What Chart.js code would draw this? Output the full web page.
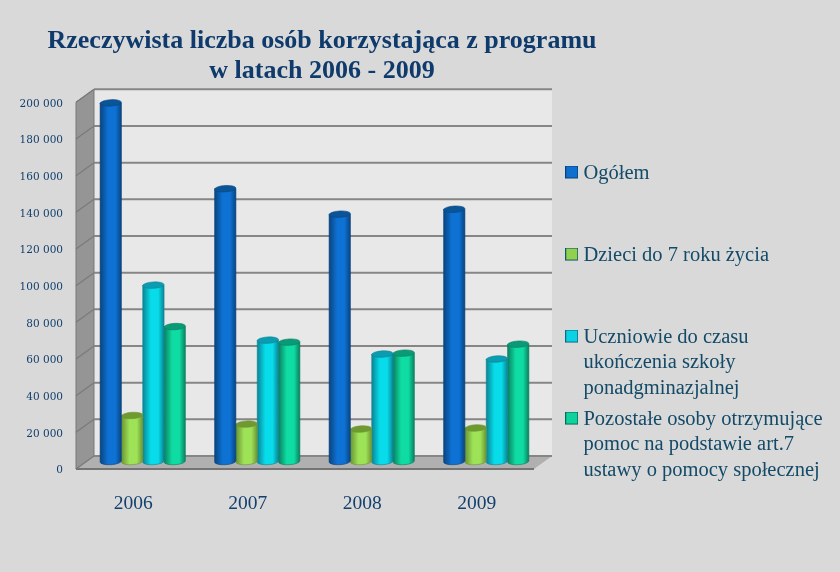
<!DOCTYPE html>
<html><head><meta charset="utf-8">
<script src="https://cdn.jsdelivr.net/npm/chart.js@4"></script>
<style>html,body{margin:0;padding:0;background:#d9d9d9}canvas{display:block}</style>
</head><body><canvas id="c" width="840" height="572"></canvas>
<script>
const categories = ['2006', '2007', '2008', '2009'];
const ogolem = [195600, 148800, 134900, 137600];
const dzieci = [25100, 20400, 17700, 18300];
const uczniowie = [96200, 66200, 58600, 55900];
const pozostale = [73600, 65100, 59100, 64000];
const seriesNames = ['Ogółem', 'Dzieci do 7 roku życia', 'Uczniowie do czasu ukończenia szkoły ponadgminazjalnej', 'Pozostałe osoby otrzymujące pomoc na podstawie art.7 ustawy o pomocy społecznej'];
const legendLines = [
  ['Ogółem', '', ''],
  ['Dzieci do 7 roku życia', '', ''],
  ['Uczniowie do czasu', 'ukończenia szkoły', 'ponadgminazjalnej'],
  ['Pozostałe osoby otrzymujące', 'pomoc na podstawie art.7', 'ustawy o pomocy społecznej']
];
const titleLines = ['Rzeczywista liczba osób korzystająca z programu', 'w latach 2006 - 2009'];

const styles = [
  {fill:'#0e6fce', edge:'#0a4480', mid:'#0d72d4', cap:'#0a5598', box:'#0b3f7a'},
  {fill:'#92d050', edge:'#6c9432', mid:'#9ee258', cap:'#6f9a30', box:'#0f5a6c'},
  {fill:'#0ad2e4', edge:'#0a8494', mid:'#08dcea', cap:'#0a9cb0', box:'#0f6a80'},
  {fill:'#0fd39c', edge:'#0a8060', mid:'#0fdca2', cap:'#0a9a78', box:'#0a6a58'}
];
const DX = 18, DY = -13;          // depth of the 3D box
const BAR_DX = 9.5, BAR_DY = -7.5; // bars stand mid-depth
const textColor = '#123f6e', legendColor = '#124a68';

// Cylinder rendering of the library's bar elements
Chart.BarElement.prototype.draw = function (ctx) {
  const s = styles.find(k => k.fill === this.options.backgroundColor);
  const w = this.width, cx = this.x + BAR_DX, yt = this.y + BAR_DY, yb = this.base + BAR_DY;
  const l = cx - w / 2, r = cx + w / 2, ry = 3.2, tilt = -0.06;
  const g = ctx.createLinearGradient(l, 0, r, 0);
  g.addColorStop(0, s.edge); g.addColorStop(0.38, s.mid); g.addColorStop(0.72, s.mid); g.addColorStop(1, s.edge);
  ctx.save();
  ctx.beginPath();
  ctx.moveTo(l, yt); ctx.lineTo(l, yb);
  ctx.ellipse(cx, yb, w / 2, ry, tilt, Math.PI, 0, true);
  ctx.lineTo(r, yt); ctx.closePath();
  ctx.fillStyle = g; ctx.fill();
  ctx.lineWidth = 0.6; ctx.strokeStyle = s.edge; ctx.stroke();
  ctx.beginPath();
  ctx.ellipse(cx, yt, w / 2, ry, tilt, 0, Math.PI * 2);
  ctx.fillStyle = s.cap; ctx.fill();
  ctx.lineWidth = 0.6; ctx.strokeStyle = s.edge; ctx.stroke();
  ctx.restore();
};

function swatch(s) {
  const c = document.createElement('canvas'); c.width = 13; c.height = 16;
  const x = c.getContext('2d');
  x.fillStyle = s.fill; x.fillRect(0, 0, 13, 13);
  x.strokeStyle = s.box; x.lineWidth = 1; x.strokeRect(.5, .5, 12, 12);
  return c;
}

const box3d = {
  id: 'box3d',
  beforeDraw(chart) {
    const t = chart.titleBlock; t.left = 0; t.right = 644;
    const l = chart.legend;
    l.left = 564.7; l.right = 840; l.width = 275.3; l.top = 157.75; l.bottom = 572; l.height = 414.25;
  },
  beforeDatasetsDraw(chart) {
    const {ctx, chartArea: a, scales: {y}} = chart;
    const bt = y.getPixelForValue(y.max), bb = y.getPixelForValue(0);
    ctx.save();
    // back wall
    ctx.fillStyle = '#e8e8e8';
    ctx.fillRect(a.left + DX, bt + DY, a.right - a.left, bb - bt);
    // left wall
    ctx.fillStyle = '#959595';
    ctx.beginPath();
    ctx.moveTo(a.left, bt); ctx.lineTo(a.left + DX, bt + DY); ctx.lineTo(a.left + DX, bb + DY); ctx.lineTo(a.left, bb);
    ctx.closePath(); ctx.fill();
    ctx.strokeStyle = '#787878'; ctx.lineWidth = 1; ctx.stroke();
    // floor
    ctx.fillStyle = '#b0b0b0';
    ctx.beginPath();
    ctx.moveTo(a.left, bb); ctx.lineTo(a.right, bb); ctx.lineTo(a.right + DX, bb + DY); ctx.lineTo(a.left + DX, bb + DY);
    ctx.closePath(); ctx.fill();
    // grid lines
    y.ticks.forEach(t => {
      const p = y.getPixelForValue(t.value);
      ctx.strokeStyle = '#868686'; ctx.lineWidth = 2;
      ctx.beginPath(); ctx.moveTo(a.left + DX, p + DY); ctx.lineTo(a.right + DX, p + DY); ctx.stroke();
      ctx.strokeStyle = '#7a7a7a'; ctx.lineWidth = 1.2;
      ctx.beginPath(); ctx.moveTo(a.left, p); ctx.lineTo(a.left + DX, p + DY); ctx.stroke();
    });
    ctx.strokeStyle = '#747474'; ctx.lineWidth = 2;
    ctx.beginPath(); ctx.moveTo(a.left, bb); ctx.lineTo(a.right, bb); ctx.stroke();
    ctx.restore();
  }
};

new Chart(document.getElementById('c'), {
  type: 'bar',
  plugins: [box3d],
  data: {
    labels: categories,
    datasets: [ogolem, dzieci, uczniowie, pozostale].map((d, i) => ({
      label: seriesNames[i], data: d, backgroundColor: styles[i].fill,
      categoryPercentage: 0.745, barPercentage: 1, clip: false
    }))
  },
  options: {
    responsive: false, animation: false,
    layout: {padding: {left: 0, right: 128, top: 0, bottom: 26}},
    scales: {
      x: {
        grid: {display: false, drawTicks: false}, border: {display: false},
        ticks: {color: textColor, padding: 23, font: {family: 'Liberation Serif', size: 19.5}},
        afterFit(s) { s.height = 77; }
      },
      y: {
        min: 0, max: 200000,
        grid: {display: false, drawTicks: false}, border: {display: false},
        ticks: {
          stepSize: 20000, color: textColor, padding: 13, labelOffset: 1.5,
          font: {family: 'DejaVu Serif', size: 10.5},
          callback: v => String(v).replace(/\B(?=(\d{3})+$)/g, ' ')
        },
        afterFit(s) { s.width = 76; }
      }
    },
    plugins: {
      tooltip: {enabled: false},
      title: {
        display: true, text: titleLines, color: '#0f3a6c',
        font: {family: 'Liberation Serif', size: 26, weight: 'bold', lineHeight: 1.16},
        padding: {top: 26, bottom: 16}
      },
      legend: {
        position: 'right', align: 'start',
        labels: {
          color: legendColor, padding: 5.5, usePointStyle: true, pointStyleWidth: 3,
          font: {family: 'Liberation Serif', size: 20.5, lineHeight: 1.244},
          generateLabels: chart => chart.data.datasets.map((d, i) => ({
            text: legendLines[i], fontColor: legendColor, pointStyle: swatch(styles[i]),
            fillStyle: styles[i].fill, strokeStyle: styles[i].box, lineWidth: 0, datasetIndex: i
          }))
        }
      }
    }
  }
});
</script></body></html>
